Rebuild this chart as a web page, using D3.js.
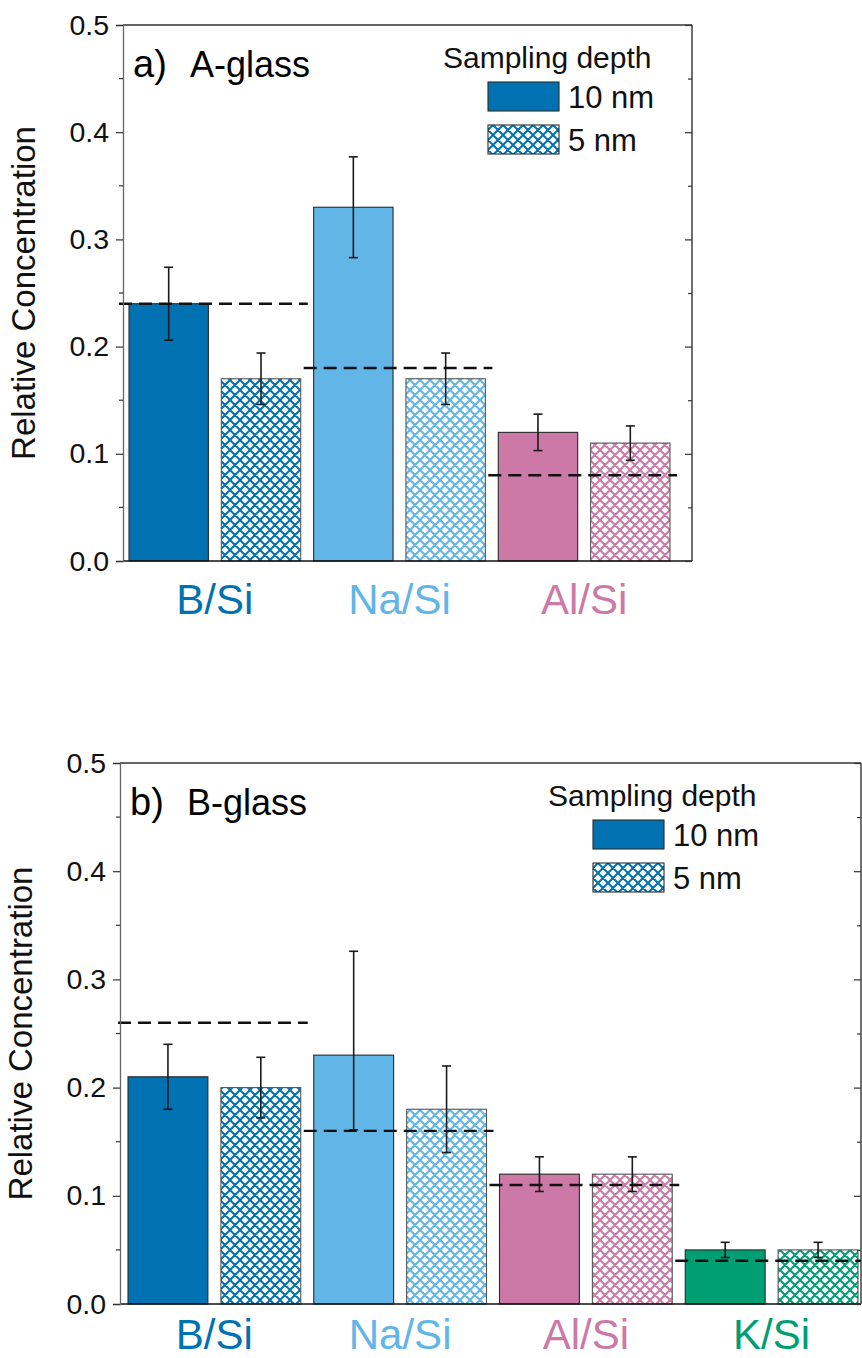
<!DOCTYPE html>
<html>
<head>
<meta charset="utf-8">
<script src="https://cdn.jsdelivr.net/npm/d3@7"></script>
<style>
  html, body { margin: 0; padding: 0; background: #fff; }
  svg { display: block; font-family: "Liberation Sans", Arial, sans-serif; }
</style>
</head>
<body>
<svg id="chart" width="862" height="1358"></svg>
<script>
// ---- data -------------------------------------------------------------
const yTicks = [0.0, 0.1, 0.2, 0.3, 0.4, 0.5];
const depthLabels = ["10 nm", "5 nm"];

// Panel a) A-glass
const ratiosA = ["B/Si", "Na/Si", "Al/Si"];
const conc10A = [0.24, 0.33, 0.12];
const err10A  = [0.034, 0.047, 0.017];
const conc5A  = [0.17, 0.17, 0.11];
const err5A   = [0.024, 0.024, 0.016];
const nominalA = [0.24, 0.18, 0.08];

// Panel b) B-glass
const ratiosB = ["B/Si", "Na/Si", "Al/Si", "K/Si"];
const conc10B = [0.21, 0.23, 0.12, 0.05];
const err10BLow  = [0.03, 0.069, 0.016, 0.007];
const err10BHigh = [0.03, 0.096, 0.016, 0.007];
const conc5B  = [0.20, 0.18, 0.12, 0.05];
const err5B   = [0.028, 0.04, 0.016, 0.007];
const nominalB = [0.26, 0.16, 0.11, 0.04];

const ratioColor = {
  "B/Si": "#0072B2",
  "Na/Si": "#62B5E7",
  "Al/Si": "#CC79A7",
  "K/Si": "#009E73"
};

// ---- drawing ----------------------------------------------------------
const svg = d3.select("#chart");
const defs = svg.append("defs");

// diamond cross-hatch pattern per colour for the 5 nm bars
const P = 10;
Object.entries(ratioColor).forEach(([k, c], i) => {
  const p = defs.append("pattern")
    .attr("id", "hatch" + i)
    .attr("patternUnits", "userSpaceOnUse")
    .attr("width", P).attr("height", P);
  p.append("rect").attr("width", P).attr("height", P).attr("fill", "#fff");
  p.append("path")
    .attr("d", `M-1,-1L${P + 1},${P + 1}M-1,${P - 1}L1,${P + 1}M${P - 1},-1L${P + 1},1` +
               `M-1,${P + 1}L${P + 1},-1M-1,1L1,-1M${P - 1},${P + 1}L${P + 1},${P - 1}`)
    .attr("stroke", c).attr("stroke-width", 2).attr("fill", "none");
});
const hatchId = k => "url(#hatch" + Object.keys(ratioColor).indexOf(k) + ")";

function drawPanel(cfg) {
  const g = svg.append("g");
  const y = d3.scaleLinear().domain([0, 0.5]).range([cfg.y0, cfg.y1]);

  // one slot per bar: ratio x depth
  const slots = [];
  cfg.ratios.forEach((r, i) => {
    slots.push({ key: r + "|10", ratio: r, depth: 0, v: cfg.c10[i], lo: cfg.e10lo[i], hi: cfg.e10hi[i] });
    slots.push({ key: r + "|5", ratio: r, depth: 1, v: cfg.c5[i], lo: cfg.e5[i], hi: cfg.e5[i] });
  });
  const x = d3.scaleBand().domain(slots.map(d => d.key))
    .range([cfg.barL, cfg.barR]).paddingInner(0.14).paddingOuter(0);

  // bars
  g.selectAll("rect.bar").data(slots).join("rect")
    .attr("class", "bar")
    .attr("x", d => x(d.key))
    .attr("width", x.bandwidth())
    .attr("y", d => y(d.v))
    .attr("height", d => y(0) - y(d.v))
    .attr("fill", d => d.depth === 0 ? ratioColor[d.ratio] : hatchId(d.ratio))
    .attr("stroke", d => d.depth === 0 ? "#2a2a2a" : "#555")
    .attr("stroke-width", 1.1);

  // error bars
  const eb = g.selectAll("g.err").data(slots).join("g").attr("class", "err")
    .attr("stroke", "#1a1a1a").attr("stroke-width", 1.6);
  const cx = d => x(d.key) + x.bandwidth() / 2;
  eb.append("line")
    .attr("x1", cx).attr("x2", cx)
    .attr("y1", d => y(d.v + d.hi)).attr("y2", d => y(d.v - d.lo));
  eb.append("line")
    .attr("x1", d => cx(d) - 4.5).attr("x2", d => cx(d) + 4.5)
    .attr("y1", d => y(d.v + d.hi)).attr("y2", d => y(d.v + d.hi));
  eb.append("line")
    .attr("x1", d => cx(d) - 4.5).attr("x2", d => cx(d) + 4.5)
    .attr("y1", d => y(d.v - d.lo)).attr("y2", d => y(d.v - d.lo));

  // nominal composition (dashed) across each ratio group
  g.selectAll("line.nom").data(cfg.ratios).join("line")
    .attr("class", "nom")
    .attr("x1", r => x(r + "|10") - 10)
    .attr("x2", r => Math.min(x(r + "|5") + x.bandwidth() + 7, cfg.frameR))
    .attr("y1", (r, i) => y(cfg.nominal[i]))
    .attr("y2", (r, i) => y(cfg.nominal[i]))
    .attr("stroke", "#111").attr("stroke-width", 2.4)
    .attr("stroke-dasharray", "13,7");

  // frame
  g.append("line").attr("x1", cfg.frameL).attr("x2", cfg.frameR)
    .attr("y1", y(0.5)).attr("y2", y(0.5)).attr("stroke", "#333").attr("stroke-width", 1.3);
  g.append("line").attr("x1", cfg.frameL).attr("x2", cfg.frameR)
    .attr("y1", y(0)).attr("y2", y(0)).attr("stroke", "#111").attr("stroke-width", 1.6);
  g.append("line").attr("x1", cfg.frameR).attr("x2", cfg.frameR)
    .attr("y1", y(0.5)).attr("y2", y(0)).attr("stroke", "#222").attr("stroke-width", 1.3);

  // left axis (outward ticks) with minor ticks
  const left = d3.axisLeft(y).tickValues(yTicks).tickFormat(d3.format(".1f"))
    .tickSize(7).tickPadding(7);
  const ax = g.append("g").attr("transform", `translate(${cfg.frameL},0)`).call(left);
  ax.select(".domain").attr("stroke", "#666").attr("stroke-width", 1.3);
  ax.selectAll(".tick line").attr("stroke", "#333").attr("stroke-width", 1.2);
  ax.selectAll(".tick text").attr("font-size", 28.5).attr("fill", "#111")
    .attr("font-family", "'Liberation Sans', Arial, sans-serif");
  const minor = [0.05, 0.15, 0.25, 0.35, 0.45];
  g.selectAll("line.minL").data(minor).join("line").attr("class", "minL")
    .attr("x1", cfg.frameL - 4).attr("x2", cfg.frameL)
    .attr("y1", d => y(d)).attr("y2", d => y(d)).attr("stroke", "#333").attr("stroke-width", 1.2);

  // right axis: inward ticks, no labels
  const right = d3.axisLeft(y).tickValues(yTicks.concat(minor)).tickFormat("")
    .tickSize(0);
  const ra = g.append("g").attr("transform", `translate(${cfg.frameR},0)`).call(right);
  ra.select(".domain").remove();
  ra.selectAll(".tick line")
    .attr("x2", d => yTicks.includes(d) ? 7 : 4)
    .attr("stroke", "#333").attr("stroke-width", 1.2)
    .attr("transform", "scale(-1,1)");

  // axis title
  g.append("text")
    .attr("transform", `translate(${cfg.titleX},${(y(0) + y(0.5)) / 2}) rotate(-90)`)
    .attr("text-anchor", "middle")
    .attr("font-size", 33).attr("fill", "#111")
    .text("Relative Concentration");

  // category labels
  g.selectAll("text.cat").data(cfg.ratios).join("text").attr("class", "cat")
    .attr("x", r => (x(r + "|10") + x(r + "|5") + x.bandwidth()) / 2)
    .attr("y", y(0) + cfg.catDy)
    .attr("text-anchor", "middle")
    .attr("font-size", 42)
    .attr("fill", r => ratioColor[r])
    .text(r => r);

  // panel label
  g.append("text").attr("x", cfg.frameL + 10).attr("y", y(0.5) + 52)
    .attr("font-size", 38).attr("fill", "#000").text(cfg.tag);
  g.append("text").attr("x", cfg.frameL + 67).attr("y", y(0.5) + 52)
    .attr("font-size", 36).attr("fill", "#000").text(cfg.name);

  // legend
  const lg = g.append("g").attr("transform", `translate(${cfg.legX},${y(0.5)})`);
  lg.append("text").attr("x", 0).attr("y", 43).attr("font-size", 30).attr("fill", "#111")
    .text("Sampling depth");
  depthLabels.forEach((lab, i) => {
    lg.append("rect")
      .attr("x", 45).attr("y", 57 + i * 43)
      .attr("width", 71).attr("height", 29)
      .attr("fill", i === 0 ? ratioColor["B/Si"] : hatchId("B/Si"))
      .attr("stroke", "#2a2a2a").attr("stroke-width", 1.1);
    lg.append("text").attr("x", 125).attr("y", 83 + i * 43)
      .attr("font-size", 31).attr("fill", "#111").text(lab);
  });
}

drawPanel({
  y0: 561, y1: 25, frameL: 123, frameR: 692, barL: 129, barR: 670,
  ratios: ratiosA, c10: conc10A, e10lo: err10A, e10hi: err10A,
  c5: conc5A, e5: err5A, nominal: nominalA,
  tag: "a)", name: "A-glass", legX: 443, titleX: 35, catDy: 53
});

drawPanel({
  y0: 1304, y1: 763, frameL: 120, frameR: 861, barL: 128, barR: 858,
  ratios: ratiosB, c10: conc10B, e10lo: err10BLow, e10hi: err10BHigh,
  c5: conc5B, e5: err5B, nominal: nominalB,
  tag: "b)", name: "B-glass", legX: 548, titleX: 32, catDy: 45
});
</script>
</body>
</html>
